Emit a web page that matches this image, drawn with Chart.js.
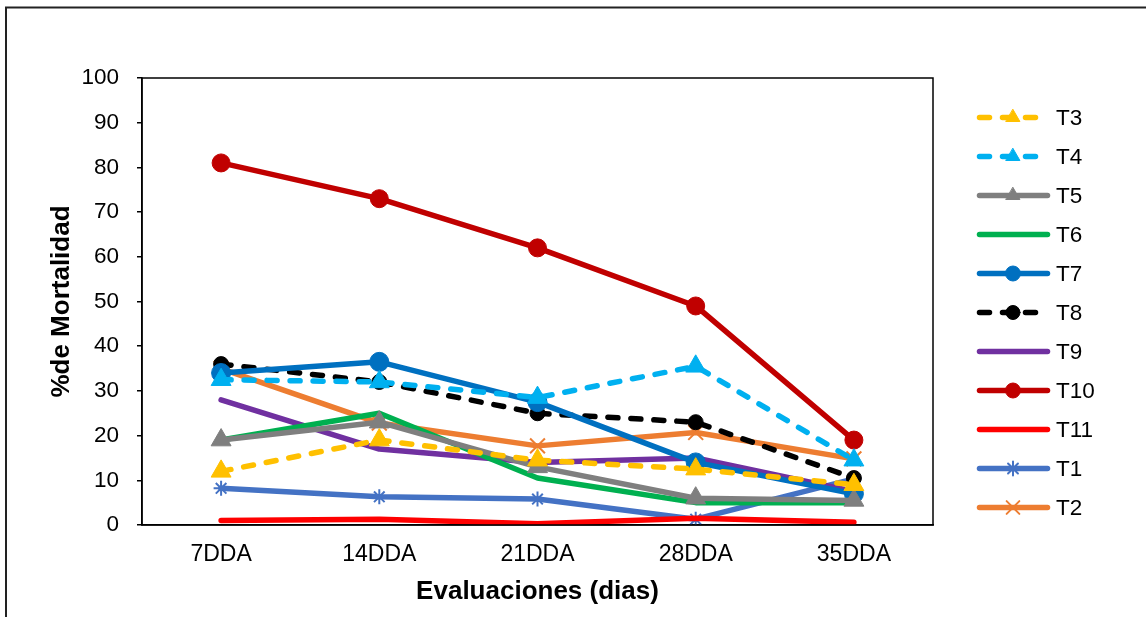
<!DOCTYPE html>
<html>
<head>
<meta charset="utf-8">
<script src="https://cdn.jsdelivr.net/npm/chart.js@4.4.1/dist/chart.umd.min.js"></script>
<style>
  html, body { margin: 0; padding: 0; background: #fff; }
  #wrap { width: 1146px; height: 617px; position: relative; }
</style>
</head>
<body>
<div id="wrap"><canvas id="c" width="1146" height="617"></canvas></div>
<script>
// Evaluation dates and tick labels
const categories = ['7DDA', '14DDA', '21DDA', '28DDA', '35DDA'];
const yTicks = [0, 10, 20, 30, 40, 50, 60, 70, 80, 90, 100];

// % mortality per treatment
const t3  = [12, 19, 14.5, 12.5, 9];
const t4  = [32.5, 32, 28.5, 35.5, 14.5];
const t5  = [19, 23, 13, 6, 5.5];
const t6  = [19, 25, 10.5, 5, 5];
const t7  = [34, 36.5, 27.5, 14, 7];
const t8  = [36, 32, 25, 23, 10.5];
const t9  = [28, 17, 14, 15, 7.5];
const t10 = [81, 73, 62, 49, 19];
const t11 = [1, 1.3, 0.3, 1.5, 0.6];
const t1  = [8.2, 6.3, 5.8, 1.3, 10.3];
const t2  = [35, 22.8, 17.7, 20.7, 14.8];

const DASH = [10, 13];
const FONT = 'Liberation Sans, Arial, sans-serif';

function series(label, data, color, opts) {
  const o = opts || {};
  return {
    label, data,
    borderColor: color,
    backgroundColor: color,
    borderWidth: 5.5,
    borderDash: o.dash ? DASH : [],
    borderCapStyle: 'round',
    borderJoinStyle: 'round',
    pointStyle: o.point || false,
    pointRadius: o.point ? (o.r || 8) : 0,
    pointHoverRadius: o.point ? (o.r || 8) : 0,
    pointBorderWidth: o.pbw || 1,
    pointBackgroundColor: color,
    pointBorderColor: color,
    tension: 0,
    fill: false,
    legendR: o.lr || 0
  };
}

const datasets = [
  series('T3', t3, '#FFC000', { dash: true, point: 'triangle', r: 11.5, pbw: 1, lr: 8 }),
  series('T4', t4, '#00B0F0', { dash: true, point: 'triangle', r: 11.5, pbw: 1, lr: 8 }),
  series('T5', t5, '#7F7F7F', { point: 'triangle', r: 11.5, pbw: 1, lr: 8 }),
  series('T6', t6, '#00B050'),
  series('T7', t7, '#0070C0', { point: 'circle', r: 9.5, pbw: 1, lr: 7.5 }),
  series('T8', t8, '#000000', { dash: true, point: 'circle', r: 7.5, pbw: 1, lr: 7 }),
  series('T9', t9, '#7030A0'),
  series('T10', t10, '#C00000', { point: 'circle', r: 9, pbw: 1, lr: 7.5 }),
  series('T11', t11, '#FF0000'),
  series('T1', t1, '#4472C4', { point: 'star', r: 7.5, pbw: 2, lr: 7 }),
  series('T2', t2, '#ED7D31', { point: 'crossRot', r: 10.5, pbw: 2, lr: 9 })
];

// Frame around the plot area and the outer chart border
const framePlugin = {
  id: 'frame',
  afterDraw(chart) {
    const { ctx, chartArea: a } = chart;
    ctx.save();
    ctx.strokeStyle = '#000';
    ctx.lineWidth = 1.5;
    ctx.strokeRect(a.left, a.top, a.right - a.left, a.bottom - a.top);
    ctx.strokeStyle = '#222';
    ctx.lineWidth = 2;
    ctx.beginPath();
    ctx.moveTo(6, 630);
    ctx.lineTo(6, 7.5);
    ctx.lineTo(1160, 7.5);
    ctx.stroke();
    ctx.restore();
  }
};

// Legend on the right: line sample with its marker, then the label
const legendPlugin = {
  id: 'sideLegend',
  afterDraw(chart) {
    const { ctx } = chart;
    const x0 = 979.5, x1 = 1047.5, xm = 1013, xt = 1056;
    const y0 = 117.5, step = 39;
    ctx.save();
    chart.data.datasets.forEach((ds, i) => {
      const y = y0 + i * step;
      ctx.strokeStyle = ds.borderColor;
      ctx.lineWidth = ds.borderWidth;
      ctx.lineCap = 'round';
      ctx.setLineDash(ds.borderDash);
      ctx.beginPath();
      ctx.moveTo(x0, y);
      ctx.lineTo(x1, y);
      ctx.stroke();
      ctx.setLineDash([]);
      if (ds.pointStyle) {
        ctx.fillStyle = ds.pointBackgroundColor;
        ctx.strokeStyle = ds.pointBorderColor;
        ctx.lineWidth = ds.pointBorderWidth;
        Chart.helpers.drawPoint(ctx, {
          pointStyle: ds.pointStyle,
          radius: ds.legendR,
          rotation: 0,
          borderWidth: ds.pointBorderWidth
        }, xm, y);
      }
      ctx.fillStyle = '#000';
      ctx.font = '22.5px ' + FONT;
      ctx.textAlign = 'left';
      ctx.textBaseline = 'middle';
      ctx.fillText(ds.label, xt, y + 1);
    });
    ctx.restore();
  }
};

new Chart(document.getElementById('c'), {
  type: 'line',
  data: { labels: categories, datasets },
  options: {
    responsive: false,
    animation: false,
    devicePixelRatio: 1,
    layout: { padding: { left: 0, top: 78, right: 213, bottom: 0 } },
    plugins: {
      legend: { display: false },
      tooltip: { enabled: false },
      title: { display: false }
    },
    scales: {
      x: {
        type: 'category',
        offset: true,
        grid: { display: false, drawTicks: false },
        border: { display: true, color: '#000', width: 1.5 },
        ticks: { color: '#000', font: { family: FONT, size: 23 }, padding: 16, maxRotation: 0 },
        title: {
          display: true, text: 'Evaluaciones (dias)', color: '#000',
          font: { family: FONT, size: 26, weight: 'bold' },
          padding: { top: 0, bottom: 10 }
        },
        afterFit(s) { s.height = 92; }
      },
      y: {
        min: 0, max: 100,
        afterBuildTicks(s) { s.ticks = yTicks.map(v => ({ value: v })); },
        grid: { display: true, drawOnChartArea: false, drawTicks: true, tickLength: 5, color: '#000', tickColor: '#000', lineWidth: 1.5 },
        border: { display: true, color: '#000', width: 1.5 },
        ticks: { color: '#000', font: { family: FONT, size: 22.5 }, padding: 18 },
        title: {
          display: true, text: '%de Mortalidad', color: '#000',
          font: { family: FONT, size: 26, weight: 'bold' },
          padding: { top: 46, bottom: 0 }
        },
        afterFit(s) { s.width = 142; }
      }
    }
  },
  plugins: [framePlugin, legendPlugin]
});
</script>
</body>
</html>
